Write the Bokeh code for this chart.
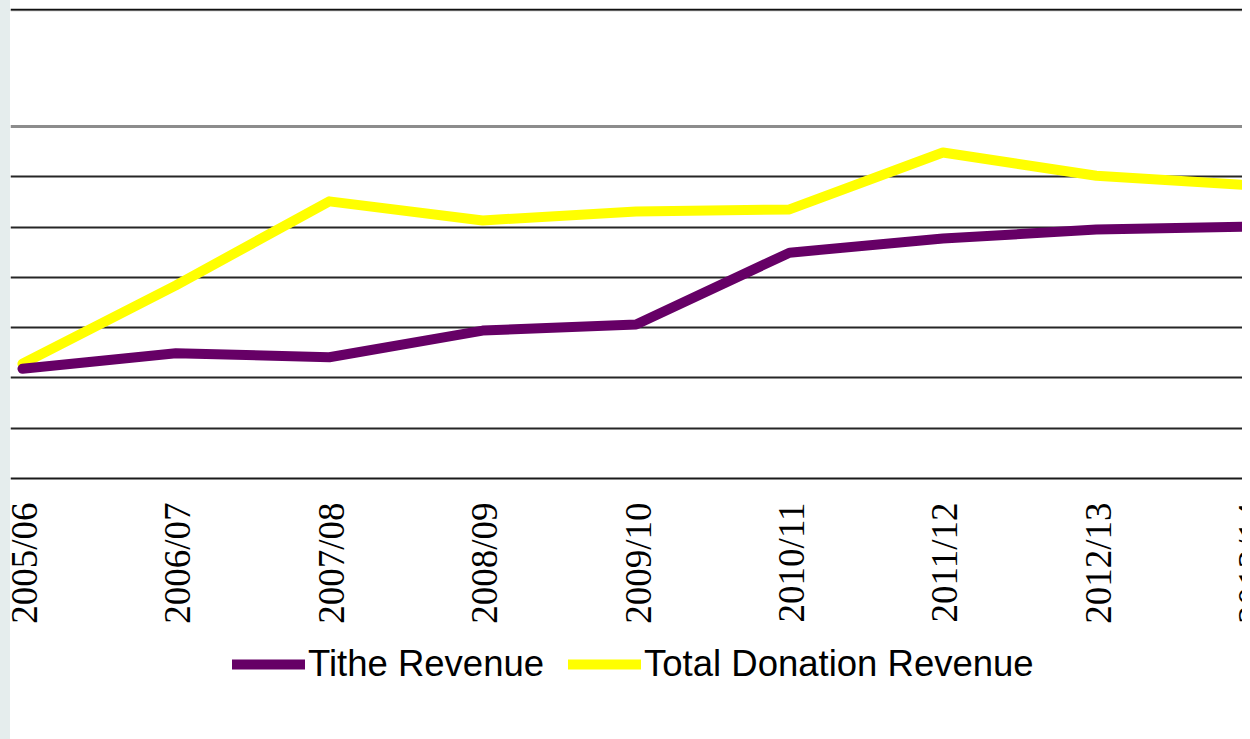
import math
from bokeh.plotting import figure
from bokeh.layouts import row
from bokeh.models import Range1d, FixedTicker, Span, Legend, LegendItem, Div
from bokeh.embed import file_html
from bokeh.resources import INLINE

# ---- data (values read in grid-line units; y-axis labels are not shown) ----
years = ["2005/06", "2006/07", "2007/08", "2008/09", "2009/10",
         "2010/11", "2011/12", "2012/13", "2013/14"]
tithe_revenue = [2.18, 2.49, 2.41, 2.94, 3.06, 4.49, 4.77, 4.95, 5.01]
total_donation_revenue = [2.28, 3.84, 5.51, 5.13, 5.31, 5.35, 6.48, 6.02, 5.83]
grid_values = [1, 2, 3, 4, 5, 6]
xs = list(range(len(years)))

# the frame covers the whole picture below the top border; the category axis
# (baseline, rotated labels) sits at y = 0 inside it
p = figure(frame_width=1232, frame_height=731,
           output_backend="svg", toolbar_location=None,
           x_range=Range1d(-0.078, 7.953), y_range=Range1d(-5.189, 9.344),
           x_axis_location=None, y_axis_location=None,
           min_border_left=0, min_border_right=0, min_border_top=8,
           min_border_bottom=0)
p.outline_line_color = None
p.background_fill_color = "white"
p.border_fill_color = "white"

# grid
p.xgrid.grid_line_color = None
p.ygrid.ticker = FixedTicker(ticks=grid_values)
p.ygrid.grid_line_color = "#262626"
p.ygrid.grid_line_width = 2
p.add_layout(Span(location=7, dimension="width", line_color="#8c8c8c", line_width=3))
p.add_layout(Span(location=9.30, dimension="width", line_color="#9a9a9a", line_width=1))
p.add_layout(Span(location=9.324, dimension="width", line_color="#111111", line_width=2))
# category axis baseline
p.add_layout(Span(location=0, dimension="width", line_color="#1a1a1a", line_width=2))

# category labels, rotated, ending just under the baseline
p.text(x=xs, y=[-0.477] * len(xs), text=years, angle=math.pi / 2,
       text_align="right", text_baseline="middle", x_offset=2,
       text_font="Liberation Sans", text_font_size="37px", text_color="black")

# lines
r_total = p.line(xs, total_donation_revenue, line_color="#FFFF00", line_width=10,
                 line_cap="round", line_join="round")
r_tithe = p.line(xs, tithe_revenue, line_color="#660066", line_width=10,
                 line_cap="round", line_join="round")

legend = Legend(items=[LegendItem(label="Tithe Revenue", renderers=[r_tithe]),
                       LegendItem(label="Total Donation Revenue", renderers=[r_total])],
                orientation="horizontal", location=(222, 54),
                glyph_width=73, glyph_height=36, label_height=36,
                label_standoff=3, spacing=24,
                padding=0, margin=0, border_line_color=None,
                background_fill_alpha=0,
                label_text_font="Liberation Sans", label_text_font_size="36.5px",
                label_text_color="black")
p.add_layout(legend, "center")

strip = Div(width=10, height=739, margin=0,
            styles={"background-color": "#e5eded"})
layout = row(strip, p, spacing=0)

open("out.html", "w").write(file_html(layout, INLINE))
